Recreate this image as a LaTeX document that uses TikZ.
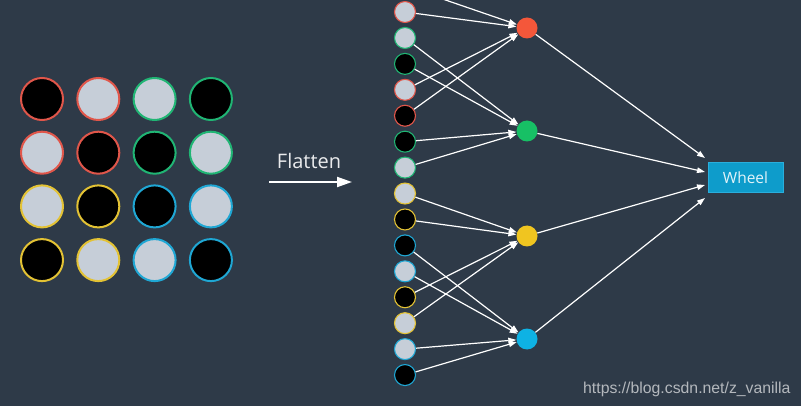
\documentclass[tikz,border=0pt]{standalone}
\usepackage{fontspec}
\setmainfont{Open Sans}
\newfontfamily\wmfont{Liberation Sans}
\usetikzlibrary{arrows.meta}
\definecolor{bgc}{HTML}{2E3A48}
\definecolor{lightc}{HTML}{C6CED8}
\definecolor{cred}{HTML}{E0564A}
\definecolor{cgreen}{HTML}{20B574}
\definecolor{cyellow}{HTML}{E3C234}
\definecolor{cblue}{HTML}{1FA7D4}
\definecolor{nred}{HTML}{F4573A}
\definecolor{ngreen}{HTML}{17C065}
\definecolor{nyellow}{HTML}{F0C520}
\definecolor{nblue}{HTML}{0EB2E4}
\definecolor{wheelfill}{HTML}{0E9CCB}
\definecolor{wheeldraw}{HTML}{2AAEDC}
\definecolor{wmc}{HTML}{B4B8BD}
\tikzset{
  gridc/.style={circle, inner sep=0pt, minimum size=42pt, line width=2pt},
  flatc/.style={circle, inner sep=0pt, minimum size=21pt, line width=1.1pt},
  hidc/.style={circle, inner sep=0pt, minimum size=21pt},
  conn/.style={draw=white, line width=1.2pt, -{Triangle[length=8pt,width=5.5pt]}},
}
\begin{document}
\begin{tikzpicture}[x=1pt,y=-1pt]
\useasboundingbox[fill=bgc] (0,0) rectangle (801,406);
\foreach \i/\fc/\bc in {0/black/cred,1/lightc/cred,2/lightc/cgreen,3/black/cgreen,
  4/lightc/cred,5/black/cred,6/black/cgreen,7/lightc/cgreen,
  8/lightc/cyellow,9/black/cyellow,10/black/cblue,11/lightc/cblue,
  12/black/cyellow,13/lightc/cyellow,14/lightc/cblue,15/black/cblue}{
  \pgfmathtruncatemacro\r{int(\i/4)}
  \pgfmathtruncatemacro\c{mod(\i,4)}
  \node[gridc, fill=\fc, draw=\bc] (g\i) at ({42+56.3*\c},{99+53.7*\r}) {};
  \node[flatc, fill=\fc, draw=\bc] (f\i) at (405,{-13.9+25.93*\i}) {};
}
\node[hidc, fill=nred] (hr) at (527,28) {};
\node[hidc, fill=ngreen] (hg) at (527,131) {};
\node[hidc, fill=nyellow] (hy) at (527,236) {};
\node[hidc, fill=nblue] (hb) at (527,339) {};
\node[draw=wheeldraw, fill=wheelfill, line width=1pt, minimum width=75pt, minimum height=30pt, inner sep=0pt,
  font=\fontsize{15.5}{18}\selectfont, text=white!88!wheelfill] (wheel) at (745.5,178) {Wheel};
\foreach \i in {0,1,4,5}{\draw[conn] (f\i) -- (hr);}
\foreach \i in {2,3,6,7}{\draw[conn] (f\i) -- (hg);}
\foreach \i in {8,9,12,13}{\draw[conn] (f\i) -- (hy);}
\foreach \i in {10,11,14,15}{\draw[conn] (f\i) -- (hb);}
\coordinate (w1) at (705,158);
\coordinate (w2) at (705,172);
\coordinate (w3) at (705,185);
\coordinate (w4) at (705,198);
\draw[conn] (hr) -- (w1);
\draw[conn] (hg) -- (w2);
\draw[conn] (hy) -- (w3);
\draw[conn] (hb) -- (w4);
\node[anchor=base, text=white!90!bgc, font=\fontsize{20}{23}\selectfont] (flt) at (309,169) {Flatten};
\coordinate (fa) at (269,182);
\coordinate (fb) at (352,182);
\draw[draw=white, line width=2pt, -{Triangle[length=15pt,width=10pt]}] (fa) -- (fb);
\node[anchor=base west, text=wmc, inner sep=0pt, font=\wmfont\fontsize{15.8}{18}\selectfont] (wm) at (583,393) {https://blog.csdn.net/z\_vanilla};
\end{tikzpicture}
\end{document}
